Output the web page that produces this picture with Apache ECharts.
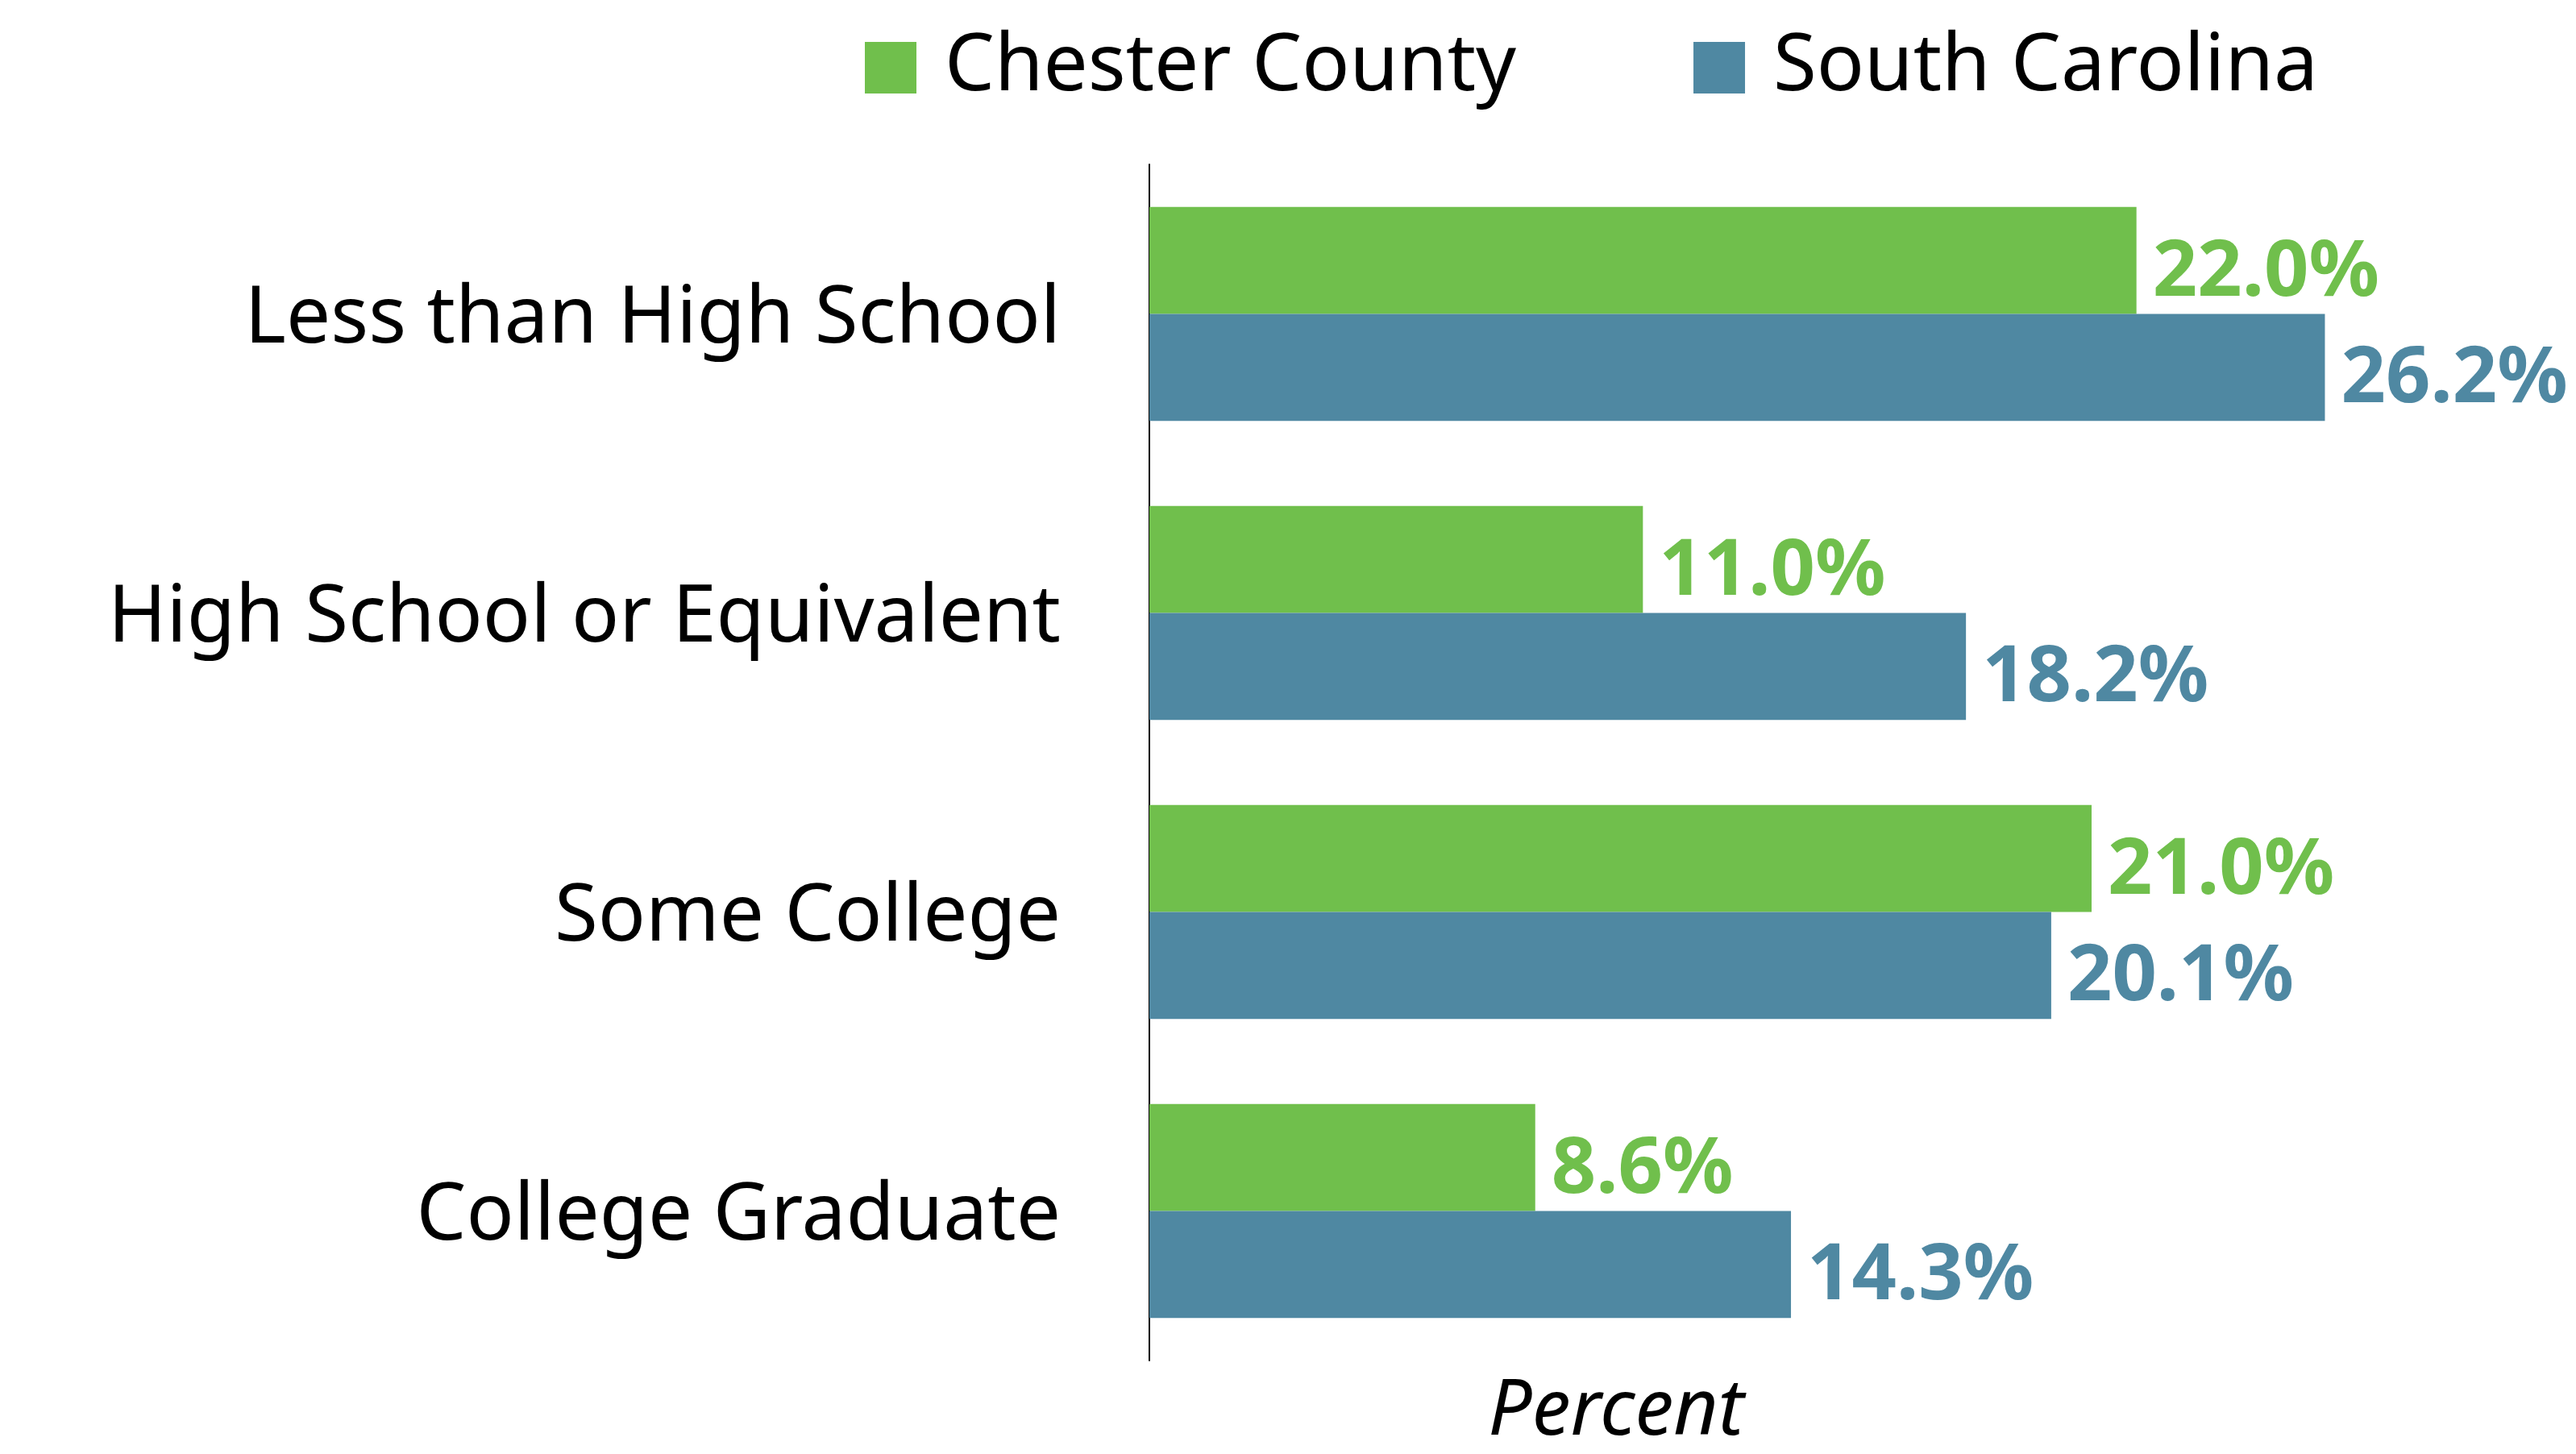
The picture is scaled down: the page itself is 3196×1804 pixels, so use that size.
<!DOCTYPE html>
<html>
<head>
<meta charset="utf-8">
<style>
  html, body { margin: 0; padding: 0; background: #ffffff; }
  #chart { width: 3196px; height: 1804px; }
</style>
<script src="https://cdn.jsdelivr.net/npm/echarts@6/dist/echarts.min.js"></script>
</head>
<body>
<div id="chart"></div>
<script>
// Educational attainment shares, county vs. state
const categories = ['Less than High School', 'High School or Equivalent', 'Some College', 'College Graduate'];
const seriesNames = ['Chester County', 'South Carolina'];
const chesterValues = [22.0, 11.0, 21.0, 8.6];
const southCarolinaValues = [26.2, 18.2, 20.1, 14.3];
const axisTitle = 'Percent';

const GREEN = '#70BF4C';
const BLUE = '#4F88A2';
const FONT = 'Noto Sans';

const chart = echarts.init(document.getElementById('chart'), null, { renderer: 'canvas' });

function valueLabel(color) {
  return {
    show: true,
    position: 'right',
    distance: 20,
    offset: [0, 16],
    color: color,
    fontFamily: FONT,
    fontWeight: 'bold',
    fontSize: 97,
    formatter: p => p.value.toFixed(1) + '%'
  };
}

chart.setOption({
  animation: false,
  backgroundColor: '#ffffff',
  title: {
    text: axisTitle,
    left: 2000,
    top: 1700,
    textAlign: 'center',
    textStyle: {
      fontFamily: FONT,
      fontStyle: 'italic',
      fontWeight: 'normal',
      fontSize: 96,
      color: '#000000'
    }
  },
  legend: {
    left: 1068,
    top: 30,
    icon: 'rect',
    itemWidth: 64,
    itemHeight: 64,
    itemGap: 220,
    textStyle: {
      fontFamily: FONT,
      fontSize: 98,
      color: '#000000',
      padding: [0, 0, 0, 30]
    },
    data: seriesNames
  },
  grid: {
    left: 1426,
    right: 100,
    top: 204,
    height: 1484,
    containLabel: false
  },
  xAxis: {
    type: 'value',
    min: 0,
    max: 30,
    show: false
  },
  yAxis: {
    type: 'category',
    data: categories,
    inverse: true,
    axisLine: { show: true, lineStyle: { color: '#000000', width: 2 } },
    axisTick: { show: false },
    axisLabel: {
      margin: 110,
      formatter: v => '{c|' + v + '}',
      rich: {
        c: {
          fontFamily: FONT,
          fontSize: 98,
          color: '#000000',
          padding: [16, 0, 0, 0]
        }
      }
    }
  },
  series: [
    {
      name: seriesNames[0],
      type: 'bar',
      data: chesterValues,
      itemStyle: { color: GREEN },
      barGap: '0%',
      barCategoryGap: '28.5%',
      label: valueLabel(GREEN)
    },
    {
      name: seriesNames[1],
      type: 'bar',
      data: southCarolinaValues,
      itemStyle: { color: BLUE },
      barGap: '0%',
      barCategoryGap: '28.5%',
      label: valueLabel(BLUE)
    }
  ]
});
</script>
</body>
</html>
